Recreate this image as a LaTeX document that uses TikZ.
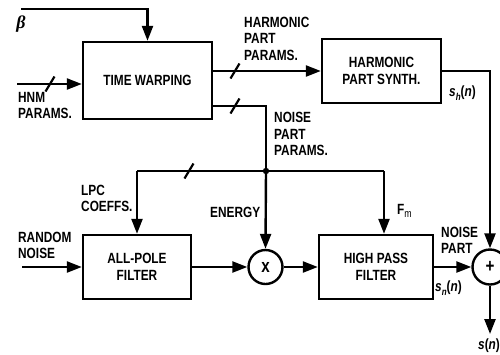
\documentclass[tikz,border=0pt]{standalone}
\usepackage{fontspec}
\setmainfont{Liberation Sans}[FakeStretch=0.8]
\newfontfamily\serifb{Liberation Serif}
\usetikzlibrary{arrows.meta}
\begin{document}
\begin{tikzpicture}[x=1pt,y=-1pt,line width=2.4pt,
  txt/.style={font=\bfseries\fontsize{14.8}{16.5}\selectfont},
  blk/.style={draw,rectangle,txt,align=center,inner sep=0pt},
  opc/.style={draw,circle,inner sep=0pt,minimum size=34pt,font=\bfseries\fontsize{19}{19}\selectfont},
  lbl/.style={txt,align=left,anchor=west,inner sep=0pt},
  arr/.style={-{Triangle[length=15pt,width=11pt]}},
  slash/.style={line width=2.2pt}]
\useasboundingbox (0,0) rectangle (500,354);
% blocks
\node[blk,minimum width=129pt,minimum height=77pt] (tw) at (147.5,80.5) {TIME WARPING};
\node[blk,minimum width=119pt,minimum height=64pt] (hps) at (381.5,71) {HARMONIC\\PART SYNTH.};
\node[blk,minimum width=108pt,minimum height=64pt] (apf) at (137,267) {ALL-POLE\\FILTER};
\node[blk,minimum width=114pt,minimum height=64pt] (hpf) at (376,267) {HIGH PASS\\FILTER};
\node[opc] (mul) at (265.5,267) {x};
\node[opc,minimum size=35pt] (add) at (490,267) {+};
% coordinates
\coordinate (bs) at (21,9);
\coordinate (hnm) at (17,84);
\coordinate (rn) at (22,267);
\coordinate (tn) at (212,106);
\coordinate (j) at (266,171);
\coordinate (lb) at (137,171);
\coordinate (fm) at (384,171);
\coordinate (out) at (490,334);
% connectors
\draw[arr] (bs) -| (tw.north);
\draw[arr] (hnm) -- (hnm -| tw.west);
\draw[arr] (tw.east |- hps) -- (hps.west);
\draw (tn) -| (j);
\draw (lb) -- (fm);
\draw[arr] (lb) -- (apf.north);
\draw[arr] (j) -- (mul.north);
\draw[arr] (fm) -- (fm |- hpf.north);
\draw[arr] (rn) -- (apf.west);
\draw[arr] (apf.east) -- (mul.west);
\draw[arr] (mul.east) -- (hpf.west);
\draw[arr] (hpf.east) -- (add.west);
\draw[arr] (hps.east) -| (add.north);
\draw[arr] (add.south) -- (out);
\fill (j) circle (3.2pt);
% bus slashes
\draw[slash] (50,84) ++(-4.5,7.5) -- ++(9,-15);
\draw[slash] (235,71) ++(-4.5,7.5) -- ++(9,-15);
\draw[slash] (235,106) ++(-4.5,7.5) -- ++(9,-15);
\draw[slash] (189,171) ++(-4.5,7.5) -- ++(9,-15);
% labels
\node[inner sep=0pt] (beta) at (21,24) {\serifb\bfseries\itshape\fontsize{18}{18}\selectfont β};
\node[lbl] (lhnm) at (17,105.5) {HNM\\PARAMS.};
\node[lbl] (lharm) at (243,38.5) {HARMONIC\\PART\\PARAMS.};
\node[lbl] (lnoise) at (273,134) {NOISE\\PART\\PARAMS.};
\node[lbl] (llpc) at (80,198.5) {LPC\\COEFFS.};
\node[lbl] (len) at (209,212) {ENERGY};
\node[lbl] (lfm) at (396,211) {F\raisebox{-0.45ex}{\mdseries\fontsize{11}{11}\selectfont m}};
\node[lbl] (lrn) at (17,245.5) {RANDOM\\NOISE};
\node[lbl] (lnp) at (440,240.5) {NOISE\\PART};
\node[lbl] (lsh) at (448,93) {\itshape s\raisebox{-0.5ex}{\fontsize{10}{10}\selectfont h}\upshape(\itshape n\upshape)};
\node[lbl] (lsn) at (434,288) {\itshape s\raisebox{-0.5ex}{\fontsize{10}{10}\selectfont n}\upshape(\itshape n\upshape)};
\node[lbl] (ls) at (477,346) {\itshape s\upshape(\itshape n\upshape)};
\end{tikzpicture}
\end{document}
